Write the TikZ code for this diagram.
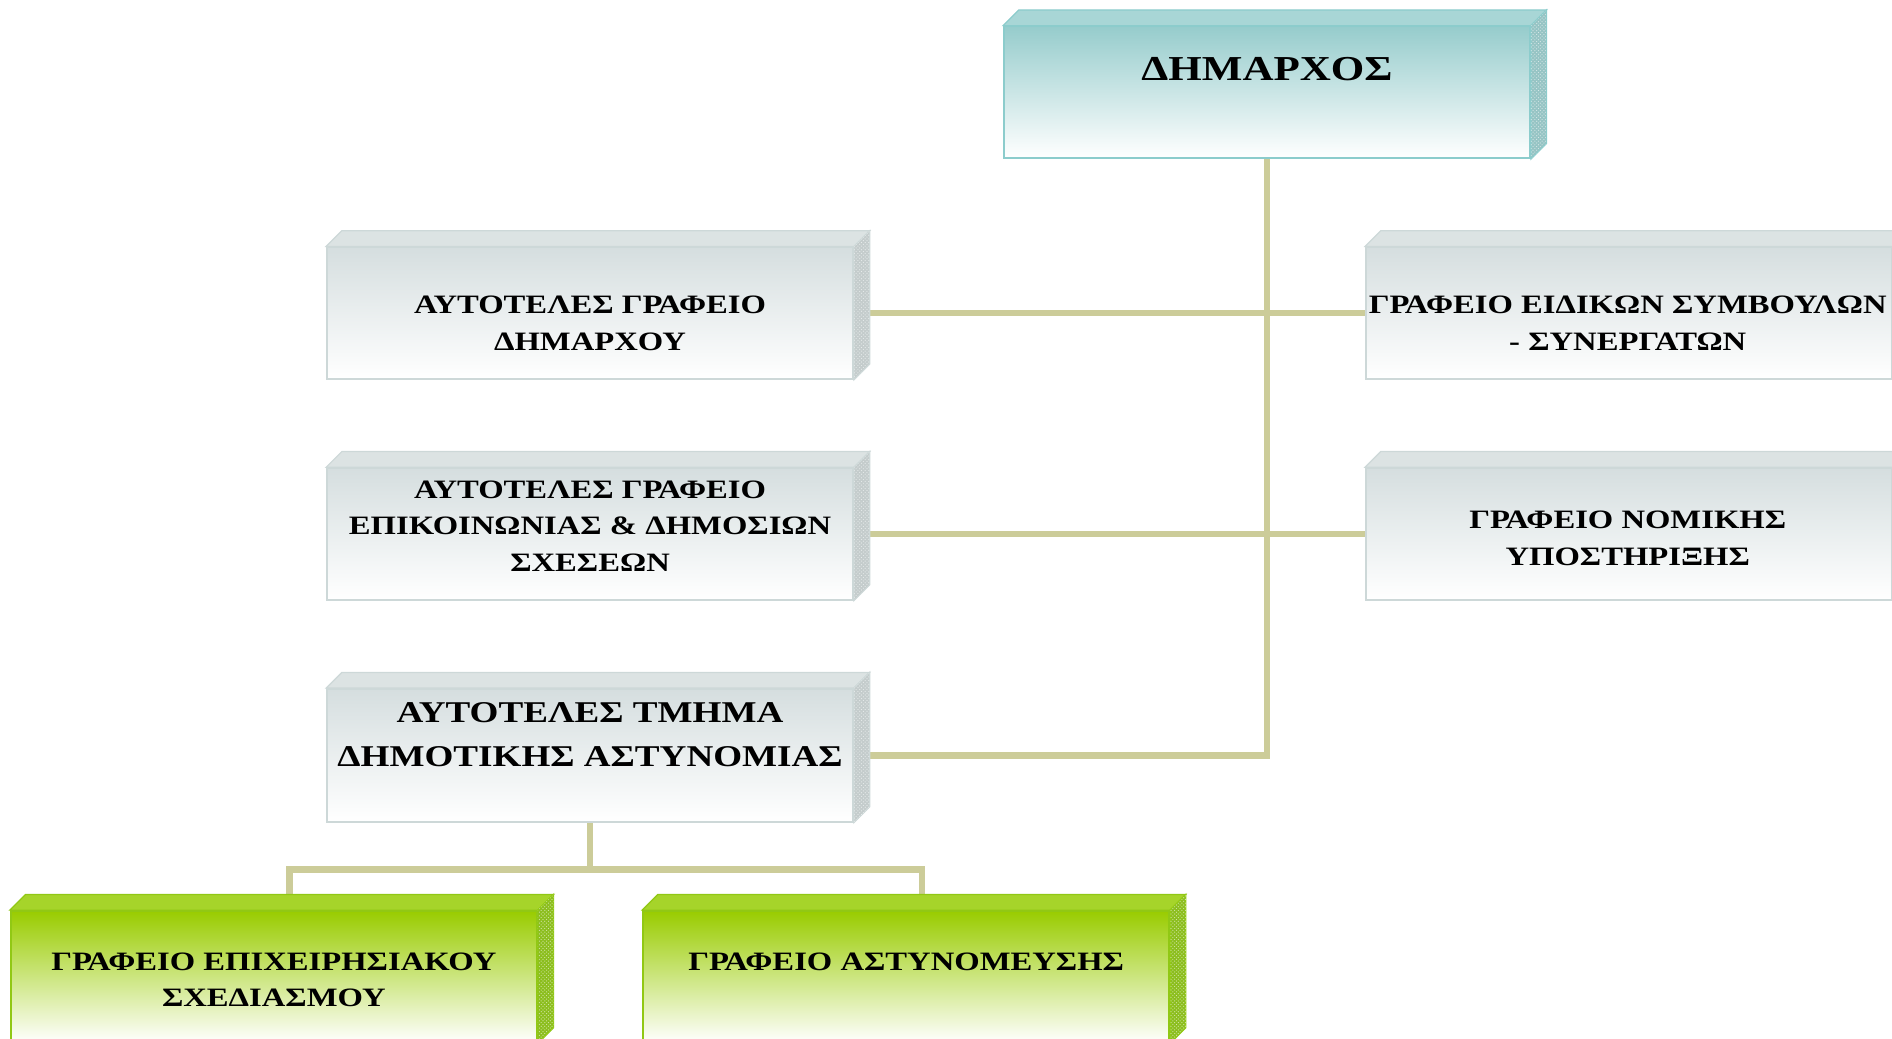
\documentclass[tikz,border=0pt]{standalone}
\usepackage{fontspec}
\setmainfont{Liberation Serif}[FakeStretch=1.23]
\usetikzlibrary{backgrounds,patterns}

\definecolor{linktan}{RGB}{204,204,153}
\definecolor{tealfront}{RGB}{150,204,204}
\definecolor{tealedge}{RGB}{140,204,204}
\definecolor{tealtop}{RGB}{168,214,214}
\definecolor{tealside}{RGB}{150,196,196}
\definecolor{grayfront}{RGB}{213,222,223}
\definecolor{grayedge}{RGB}{205,216,216}
\definecolor{graytop}{RGB}{220,227,227}
\definecolor{grayside}{RGB}{196,204,204}
\definecolor{greenfront}{RGB}{153,204,0}
\definecolor{greenedge}{RGB}{145,200,20}
\definecolor{greentop}{RGB}{166,212,42}
\definecolor{greenside}{RGB}{140,190,30}

\tikzset{
  unit/.style={draw, line width=1.5, minimum width=436, minimum height=109, inner sep=0},
  mayorbox/.style={unit, draw=tealedge, top color=tealfront, bottom color=white},
  officebox/.style={unit, draw=grayedge, top color=grayfront, bottom color=white},
  policebox/.style={unit, draw=greenedge, top color=greenfront, bottom color=white},
  link/.style={draw=linktan, line width=5.5},
  boxtext/.style={font=\fontsize{22}{30.5}\selectfont\bfseries, align=center, inner sep=0},
  bigtext/.style={boxtext, font=\fontsize{25}{36}\selectfont\bfseries},
  headtext/.style={boxtext, font=\fontsize{29}{36}\selectfont\bfseries},
}

% top and side faces of a box
\newcommand{\slab}[4]{%
  \filldraw[fill=#2, draw=#4, line width=1] (#1.north west) -- ++(13,-13)
    -- ([shift={(13,-13)}]#1.north east) -- (#1.north east) -- cycle;
  \filldraw[fill=#3, draw=#4, line width=1] (#1.north east) -- ++(13,-13)
    -- ([shift={(13,-13)}]#1.south east) -- (#1.south east) -- cycle;
  \fill[pattern=crosshatch dots, pattern color=white!60!#3] (#1.north east) -- ++(13,-13)
    -- ([shift={(13,-13)}]#1.south east) -- (#1.south east) -- cycle;
}

\begin{document}
\begin{tikzpicture}[x=1pt, y=-1pt]
\useasboundingbox (0,0) rectangle (1568,861);

\node[mayorbox] (mayor) at (1050,76.5) {};
\node[officebox] (cabinet) at (489,259.5) {};
\node[officebox] (advisors) at (1350,259.5) {};
\node[officebox] (press) at (489,442.5) {};
\node[officebox] (legal) at (1350,442.5) {};
\node[officebox, minimum height=110] (municipol) at (489,626) {};
\node[policebox] (planning) at (227,809.5) {};
\node[policebox] (patrol) at (751,809.5) {};

\slab{mayor}{tealtop}{tealside}{tealedge}
\foreach \b in {cabinet, advisors, press, legal, municipol}
  {\slab{\b}{graytop}{grayside}{grayedge}}
\foreach \b in {planning, patrol}
  {\slab{\b}{greentop}{greenside}{greenedge}}

\node[headtext] (t-mayor) at (1050,57) {ΔΗΜΑΡΧΟΣ};
\node[boxtext] (t-cabinet) at (489,268) {ΑΥΤΟΤΕΛΕΣ ΓΡΑΦΕΙΟ\\ΔΗΜΑΡΧΟΥ};
\node[boxtext] (t-advisors) at (1349,268) {ΓΡΑΦΕΙΟ ΕΙΔΙΚΩΝ ΣΥΜΒΟΥΛΩΝ\\- ΣΥΝΕΡΓΑΤΩΝ};
\node[boxtext] (t-press) at (489,436) {ΑΥΤΟΤΕΛΕΣ ΓΡΑΦΕΙΟ\\ΕΠΙΚΟΙΝΩΝΙΑΣ \& ΔΗΜΟΣΙΩΝ\\ΣΧΕΣΕΩΝ};
\node[boxtext] (t-legal) at (1349,446) {ΓΡΑΦΕΙΟ ΝΟΜΙΚΗΣ\\ΥΠΟΣΤΗΡΙΞΗΣ};
\node[bigtext] (t-municipol) at (489,609) {ΑΥΤΟΤΕΛΕΣ ΤΜΗΜΑ\\ΔΗΜΟΤΙΚΗΣ ΑΣΤΥΝΟΜΙΑΣ};
\node[boxtext] (t-planning) at (227,812) {ΓΡΑΦΕΙΟ ΕΠΙΧΕΙΡΗΣΙΑΚΟΥ\\ΣΧΕΔΙΑΣΜΟΥ};
\node[boxtext] (t-patrol) at (751,797) {ΓΡΑΦΕΙΟ ΑΣΤΥΝΟΜΕΥΣΗΣ};

\begin{scope}[on background layer]
\draw[link] (mayor.south) -- (mayor.south |- municipol.east) -- (municipol.east);
\draw[link] (cabinet.east) -- (advisors.west);
\draw[link] (press.east) -- (legal.west);
\draw[link] (municipol.south) -- ++(0,39) coordinate (fork);
\draw[link] ([xshift=13]planning.north) |- (fork) -| ([xshift=13]patrol.north);
\end{scope}
\end{tikzpicture}
\end{document}
